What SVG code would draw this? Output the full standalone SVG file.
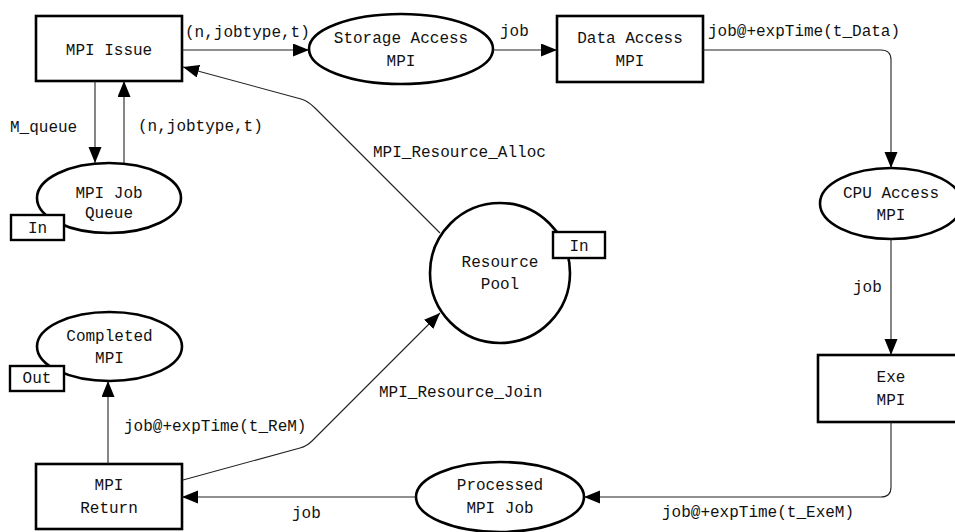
<svg xmlns="http://www.w3.org/2000/svg" width="955" height="532" viewBox="0 0 955 532">
  <style>
    .node { fill: #fff; stroke: #000; stroke-width: 2.6; }
    .tag { fill: #fff; stroke: #000; stroke-width: 2.4; }
    .arc { fill: none; stroke: #222; stroke-width: 1.1; marker-end: url(#head); }
    text { font-family: "Liberation Mono", "DejaVu Sans Mono", monospace; font-size: 16px; fill: #111; }
    .c { text-anchor: middle; }
  </style>
  <defs>
    <marker id="head" markerUnits="userSpaceOnUse" markerWidth="17" markerHeight="14" refX="16" refY="6.5" orient="auto">
      <path d="M0,0 L16,6.5 L0,13 z" fill="#000"/>
    </marker>
  </defs>

  <rect width="955" height="532" fill="#fff"/>

  <!-- transitions and places -->
  <g id="mpi-issue">
    <rect class="node" x="36" y="16" width="146" height="65"/>
    <text class="c" x="109" y="55">MPI Issue</text>
  </g>

  <g id="storage-access">
    <ellipse class="node" cx="401" cy="49" rx="92" ry="35"/>
    <text class="c" x="401" y="43">Storage Access</text>
    <text class="c" x="401" y="66">MPI</text>
  </g>

  <g id="data-access">
    <rect class="node" x="557" y="16" width="146" height="66"/>
    <text class="c" x="630" y="43">Data Access</text>
    <text class="c" x="630" y="66">MPI</text>
  </g>

  <g id="cpu-access">
    <ellipse class="node" cx="891" cy="203.5" rx="71" ry="35.5"/>
    <text class="c" x="891" y="198">CPU Access</text>
    <text class="c" x="891" y="220">MPI</text>
  </g>

  <g id="exe-mpi">
    <rect class="node" x="818" y="355" width="146" height="67"/>
    <text class="c" x="891" y="382">Exe</text>
    <text class="c" x="891" y="405">MPI</text>
  </g>

  <g id="processed-job">
    <ellipse class="node" cx="500" cy="497" rx="84" ry="35"/>
    <text class="c" x="500" y="490">Processed</text>
    <text class="c" x="500" y="513">MPI Job</text>
  </g>

  <g id="mpi-return">
    <rect class="node" x="36" y="464" width="146" height="65"/>
    <text class="c" x="109" y="490">MPI</text>
    <text class="c" x="109" y="513">Return</text>
  </g>

  <g id="completed-mpi">
    <ellipse class="node" cx="109.5" cy="346.5" rx="72.5" ry="34.5"/>
    <text class="c" x="109.5" y="341">Completed</text>
    <text class="c" x="109.5" y="363">MPI</text>
    <rect class="tag" x="10" y="366" width="54" height="25"/>
    <text class="c" x="37" y="383">Out</text>
  </g>

  <g id="mpi-job-queue">
    <ellipse class="node" cx="109" cy="198" rx="72" ry="35"/>
    <text class="c" x="109" y="198">MPI Job</text>
    <text class="c" x="109" y="218">Queue</text>
    <rect class="tag" x="11" y="215" width="53" height="25"/>
    <text class="c" x="37.5" y="233">In</text>
  </g>

  <g id="resource-pool">
    <circle class="node" cx="500" cy="273" r="70"/>
    <text class="c" x="500" y="267">Resource</text>
    <text class="c" x="500" y="289">Pool</text>
    <rect class="tag" x="553" y="232" width="52" height="26"/>
    <text class="c" x="579" y="251">In</text>
  </g>

  <!-- arcs -->
  <g id="arcs">
    <path class="arc" d="M182,50 L309,50"/>
    <path class="arc" d="M493,50 L557,50"/>
    <path class="arc" d="M703,50 L881,50 Q891,50 891,60 L891,168"/>
    <path class="arc" d="M891,239 L891,355"/>
    <path class="arc" d="M891,422 L891,487 Q891,497 881,497 L584,497"/>
    <path class="arc" d="M416,497 L182,497"/>
    <path class="arc" d="M108,464 L108,381"/>
    <path class="arc" d="M95,81 L95,163"/>
    <path class="arc" d="M124,163 L124,81"/>
    <path class="arc" d="M440,233 L315,108 Q308,101 301,99 L183,67"/>
    <path class="arc" d="M183,480 L300,448 Q307,446 312,441 L440,313"/>

    <text x="185" y="37">(n,jobtype,t)</text>
    <text x="500" y="36">job</text>
    <text x="708" y="36">job@+expTime(t_Data)</text>
    <text x="10" y="132">M_queue</text>
    <text x="138" y="131">(n,jobtype,t)</text>
    <text x="373" y="157">MPI_Resource_Alloc</text>
    <text x="853" y="292">job</text>
    <text x="379" y="397">MPI_Resource_Join</text>
    <text x="124" y="431">job@+expTime(t_ReM)</text>
    <text x="292" y="518">job</text>
    <text x="662" y="517">job@+expTime(t_ExeM)</text>
  </g>
</svg>
